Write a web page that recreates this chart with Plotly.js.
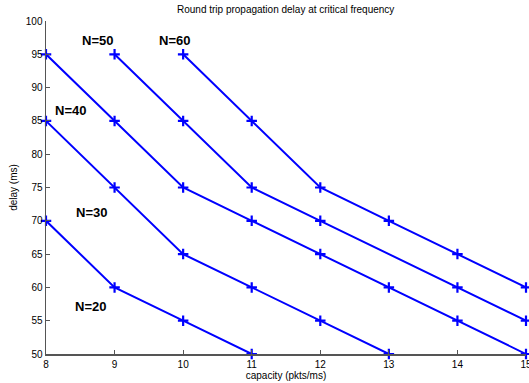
<!DOCTYPE html>
<html><head><meta charset="utf-8">
<script src="https://cdn.plot.ly/plotly-3.0.1.min.js"></script>
<style>html,body{margin:0;padding:0;background:#fff}#c{width:529px;height:383px}</style>
</head><body><div id="c"></div>
<script>
const seriesNames = ["N=20","N=30","N=40","N=50","N=60"];
const x20 = [8,9,10,11];           const y20 = [70,60,55,50];
const x30 = [8,9,10,11,12,13];     const y30 = [85,75,65,60,55,50];
const x40 = [8,9,10,11,12,13,14,15]; const y40 = [95,85,75,70,65,60,55,50];
const x50 = [9,10,11,12,14,15];    const y50 = [95,85,75,70,60,55];
const x60 = [10,11,12,13,14,15];   const y60 = [95,85,75,70,65,60];
const labelX = [8.65,8.67,8.35,8.75,9.88];
const labelY = [57.2,71.3,86.5,97,97];
const xs=[x20,x30,x40,x50,x60], ys=[y20,y30,y40,y50,y60];
const traces = xs.map((x,i)=>({x:x,y:ys[i],type:'scatter',mode:'lines+markers',name:seriesNames[i],
  line:{color:'#0000ff',width:2},marker:{symbol:'cross-thin-open',size:7.5,color:'#0000ff',line:{color:'#0000ff',width:2.2}},cliponaxis:false}));
const annotations = seriesNames.map((n,i)=>({x:labelX[i],y:labelY[i],text:'<b>'+n+'</b>',showarrow:false,
  font:{family:'Liberation Sans, Arial',size:13,color:'#000'}}));
const axisFont={family:'Liberation Sans, Arial',size:10,color:'#000'};
Plotly.newPlot('c',traces,{
  width:529,height:383,showlegend:false,paper_bgcolor:'#fff',plot_bgcolor:'#fff',
  margin:{l:45.5,r:3,t:21,b:29},
  title:{text:'Round trip propagation delay at critical frequency',font:{family:'Liberation Sans, Arial',size:10,color:'#000'},x:0.54,xanchor:'center',y:0.985,yanchor:'top'},
  xaxis:{range:[8,15],dtick:1,tick0:8,showgrid:false,zeroline:false,showline:true,linecolor:'#555',linewidth:1.5,ticks:'inside',ticklen:4,tickcolor:'#555',tickfont:axisFont,ticklabeloverflow:'allow',
    title:{text:'capacity (pkts/ms)',font:axisFont,standoff:2}},
  yaxis:{range:[50,100],dtick:5,tick0:50,showgrid:false,zeroline:false,showline:true,linecolor:'#555',linewidth:1.5,ticks:'inside',ticklen:4,tickcolor:'#555',tickfont:axisFont,
    title:{text:'delay (ms)',font:axisFont,standoff:6}},
  annotations:annotations
},{displayModeBar:false,staticPlot:true});
</script></body></html>
